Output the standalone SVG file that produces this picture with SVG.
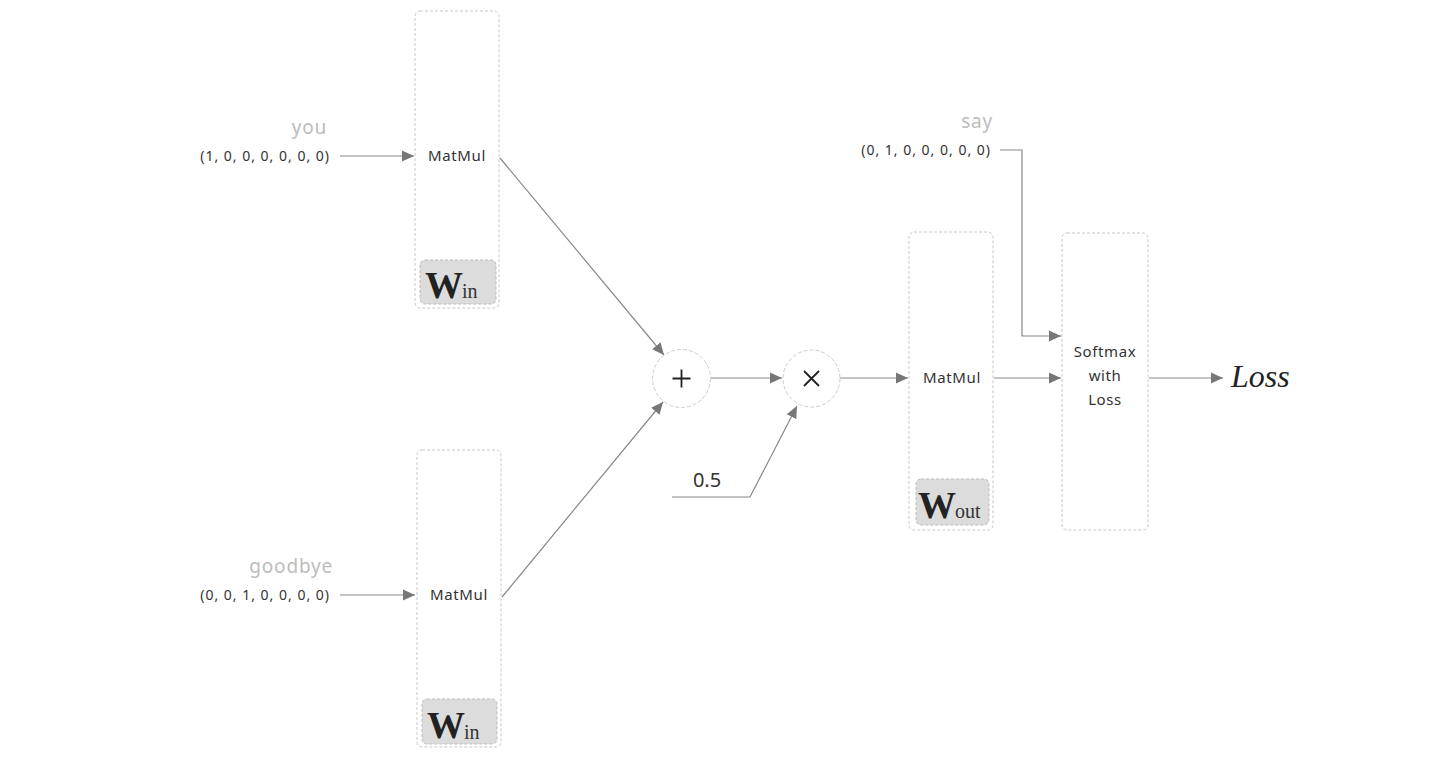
<svg xmlns="http://www.w3.org/2000/svg" width="1440" height="782" viewBox="0 0 1440 782">
<defs>
<marker id="ah" viewBox="0 0 10 10" refX="10" refY="5" markerWidth="12" markerHeight="12" markerUnits="userSpaceOnUse" orient="auto">
<path d="M0,0.5 L10,5 L0,9.5 Z" fill="#777"/>
</marker>
<style>
.box{fill:#fff;stroke:#c8c8c8;stroke-width:1;stroke-dasharray:3 2}
.badge{fill:#dcdcdc;stroke:#bbb;stroke-width:1;stroke-dasharray:3 2}
.circ{fill:#fff;stroke:#ccc;stroke-width:1;stroke-dasharray:4 2}
.t{font-family:"Noto Sans","Liberation Sans",sans-serif;font-size:15px;letter-spacing:0.6px;fill:#333}
.v{font-family:"Noto Sans","Liberation Sans",sans-serif;font-size:14px;letter-spacing:1px;fill:#333}
.lbl{font-family:"Noto Sans","Liberation Sans",sans-serif;font-size:19px;letter-spacing:0.8px;fill:#bcbcbc}
.w{font-family:"Liberation Serif",serif;font-weight:bold;font-size:38px;fill:#222}
.sub{font-family:"Liberation Serif",serif;font-size:20px;fill:#333}
.ln{fill:none;stroke:#888;stroke-width:1.2}
.op{stroke:#222;stroke-width:1.8;fill:none}
</style>
</defs>
<rect width="1440" height="782" fill="#fff"/>

<g id="connectors">
<line class="ln" x1="340" y1="156" x2="414" y2="156" marker-end="url(#ah)"/>
<line class="ln" x1="340" y1="595" x2="415" y2="595" marker-end="url(#ah)"/>
<line class="ln" x1="500" y1="158" x2="664" y2="355" marker-end="url(#ah)"/>
<line class="ln" x1="502" y1="597" x2="663" y2="402" marker-end="url(#ah)"/>
<line class="ln" x1="711" y1="378" x2="782" y2="378" marker-end="url(#ah)"/>
<polyline class="ln" points="672,497 750,497 797,406" marker-end="url(#ah)"/>
<line class="ln" x1="840" y1="378" x2="908" y2="378" marker-end="url(#ah)"/>
<line class="ln" x1="994" y1="378" x2="1061" y2="378" marker-end="url(#ah)"/>
<polyline class="ln" points="1000,150 1022,150 1022,336 1061,336" marker-end="url(#ah)"/>
<line class="ln" x1="1149" y1="378" x2="1223" y2="378" marker-end="url(#ah)"/>
</g>

<g id="input-you">
<text class="lbl" x="327" y="134" text-anchor="end">you</text>
<text class="v" x="330" y="161" text-anchor="end">(1, 0, 0, 0, 0, 0, 0)</text>
</g>
<g id="input-goodbye">
<text class="lbl" x="333" y="573" text-anchor="end">goodbye</text>
<text class="v" x="330" y="600" text-anchor="end">(0, 0, 1, 0, 0, 0, 0)</text>
</g>
<g id="input-say">
<text class="lbl" x="993" y="128" text-anchor="end">say</text>
<text class="v" x="991" y="155" text-anchor="end">(0, 1, 0, 0, 0, 0, 0)</text>
</g>

<g id="matmul-in1">
<rect class="box" x="415" y="11" width="84" height="297" rx="5"/>
<text class="t" x="457" y="161" text-anchor="middle">MatMul</text>
<rect class="badge" x="420" y="260" width="76" height="44" rx="5"/>
<text class="w" x="425" y="298">W</text><text class="sub" x="462" y="298">in</text>
</g>

<g id="matmul-in2">
<rect class="box" x="417" y="450" width="84" height="297" rx="5"/>
<text class="t" x="459" y="600" text-anchor="middle">MatMul</text>
<rect class="badge" x="422" y="699" width="75" height="45" rx="5"/>
<text class="w" x="427" y="738">W</text><text class="sub" x="464" y="739">in</text>
</g>

<g id="plus">
<circle class="circ" cx="681.5" cy="378.5" r="29"/>
<path class="op" d="M672.5,378.5 H690.5 M681.5,369.5 V387.5"/>
</g>

<g id="times">
<circle class="circ" cx="811.5" cy="378.5" r="28.5"/>
<path class="op" d="M804,371 L819,386 M819,371 L804,386"/>
</g>

<g id="half">
<text x="707" y="487" text-anchor="middle" font-family="Noto Sans, Liberation Sans, sans-serif" font-size="20" fill="#333">0.5</text>
</g>

<g id="matmul-out">
<rect class="box" x="909" y="232" width="84" height="298" rx="5"/>
<text class="t" x="952" y="383" text-anchor="middle">MatMul</text>
<rect class="badge" x="916" y="479" width="73" height="46" rx="5"/>
<text class="w" x="918" y="518">W</text><text class="sub" x="955" y="518">out</text>
</g>

<g id="softmax">
<rect class="box" x="1062" y="233" width="86" height="297" rx="5"/>
<text class="t" x="1105" y="357" text-anchor="middle">Softmax</text>
<text class="t" x="1105" y="381" text-anchor="middle">with</text>
<text class="t" x="1105" y="405" text-anchor="middle">Loss</text>
</g>

<g id="loss">
<text x="1231" y="387" font-family="Liberation Serif, serif" font-style="italic" font-size="32" fill="#222">Loss</text>
</g>
</svg>
